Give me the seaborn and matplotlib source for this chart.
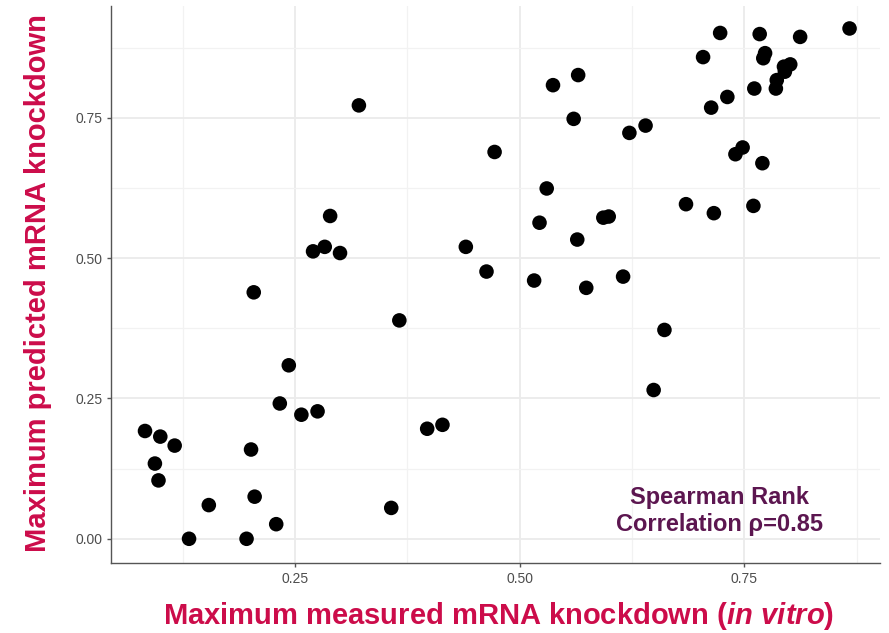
import numpy as np
import pandas as pd
import matplotlib
matplotlib.use("Agg")
import matplotlib.pyplot as plt
import seaborn as sns
from matplotlib.ticker import MultipleLocator

measured = [0.083, 0.100, 0.116, 0.094, 0.098, 0.132, 0.154, 0.196, 0.201, 0.205,
            0.229, 0.233, 0.257, 0.275, 0.243, 0.204, 0.270, 0.283, 0.300, 0.289,
            0.321, 0.366, 0.357, 0.397, 0.414,
            0.537, 0.565, 0.560, 0.622, 0.640, 0.472, 0.530, 0.522, 0.593, 0.599,
            0.564, 0.685, 0.440, 0.463, 0.516, 0.574, 0.615,
            0.723, 0.767, 0.812, 0.867, 0.704, 0.773, 0.771, 0.801, 0.794, 0.795,
            0.786, 0.785, 0.761, 0.731, 0.713, 0.748, 0.740, 0.770,
            0.716, 0.760, 0.661, 0.649]
predicted = [0.192, 0.182, 0.166, 0.134, 0.104, 0.000, 0.060, 0.000, 0.159, 0.075,
             0.026, 0.241, 0.221, 0.227, 0.309, 0.439, 0.512, 0.520, 0.509, 0.575,
             0.772, 0.389, 0.055, 0.196, 0.203,
             0.808, 0.826, 0.748, 0.723, 0.736, 0.689, 0.624, 0.563, 0.572, 0.574,
             0.533, 0.596, 0.520, 0.476, 0.460, 0.447, 0.467,
             0.901, 0.899, 0.894, 0.909, 0.858, 0.865, 0.856, 0.845, 0.841, 0.832,
             0.817, 0.802, 0.802, 0.787, 0.768, 0.697, 0.685, 0.669,
             0.580, 0.593, 0.372, 0.265]
x_ticks = [0.25, 0.50, 0.75]
y_ticks = [0.00, 0.25, 0.50, 0.75]

df = pd.DataFrame({"measured": measured, "predicted": predicted})

sns.set_theme(style="white")
plt.rcParams["font.family"] = ["Liberation Sans", "DejaVu Sans"]
plt.rcParams["mathtext.fontset"] = "custom"
plt.rcParams["mathtext.rm"] = "Liberation Sans:bold"
plt.rcParams["mathtext.bf"] = "Liberation Sans:bold"
plt.rcParams["mathtext.it"] = "Liberation Sans:bold:italic"

W, H = 889, 633
fig = plt.figure(figsize=(W / 100, H / 100), dpi=100)
ax = fig.add_axes([0.1245, 0.110, 0.8655, 0.8805])

sns.scatterplot(data=df, x="measured", y="predicted", ax=ax, s=110,
                color="black", edgecolor="none", zorder=3)

ax.set_xlim(0.0448, 0.901)
ax.set_ylim(-0.0438, 0.949)
ax.set_xticks(x_ticks)
ax.set_xticklabels([f"{v:.2f}" for v in x_ticks])
ax.set_yticks(y_ticks)
ax.set_yticklabels([f"{v:.2f}" for v in y_ticks])
ax.xaxis.set_minor_locator(MultipleLocator(0.25 / 2))
ax.yaxis.set_minor_locator(MultipleLocator(0.25 / 2))
ax.grid(True, which="major", color="#EBEBEB", linewidth=1.3, zorder=0)
ax.grid(True, which="minor", color="#F2F2F2", linewidth=0.9, zorder=0)
ax.set_axisbelow(True)

for side in ["top", "right"]:
    ax.spines[side].set_visible(False)
for side in ["left", "bottom"]:
    ax.spines[side].set_color("#555555")
    ax.spines[side].set_linewidth(1.0)

ax.tick_params(axis="both", which="major", length=3, width=1, color="#555555",
               labelsize=10, labelcolor="#4D4D4D", pad=3, left=True, bottom=True)
ax.tick_params(axis="both", which="minor", length=0)
ax.set_xlabel("")
ax.set_ylabel("")

label_color = "#CC0C4A"
fig.text(499 / W, 9 / H, r"Maximum measured mRNA knockdown ($\mathit{in\ vitro}$)",
         ha="center", va="baseline", fontsize=21, fontweight="bold", color=label_color)
fig.text(38 / W, 1 - 283 / H, "Maximum predicted mRNA knockdown", rotation=90,
         ha="center", va="center", fontsize=21, fontweight="bold", color=label_color)

ax.text(0.722, 0.049, "Spearman Rank\nCorrelation ρ=0.85", ha="center", va="center",
        fontsize=17, fontweight="bold", color="#5C1650", linespacing=1.2)

fig.savefig("out.png", dpi=100)
